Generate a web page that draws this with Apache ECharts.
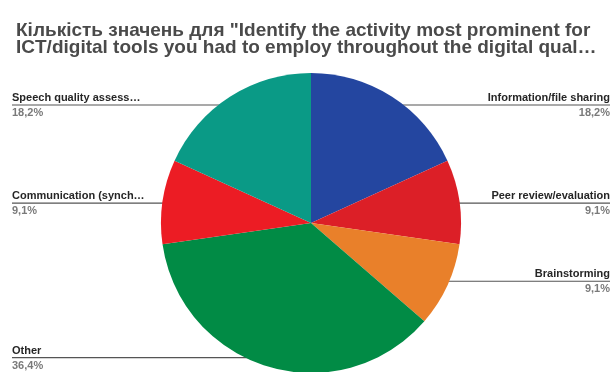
<!DOCTYPE html>
<html>
<head>
<meta charset="utf-8">
<script src="https://cdn.jsdelivr.net/npm/echarts@6/dist/echarts.min.js"></script>
<style>
  html, body { margin: 0; padding: 0; background: #fff; }
  #chart { width: 615px; height: 372px; }
</style>
</head>
<body>
<div id="chart"></div>
<script>
// Answer categories, in clockwise order from the top
const categories = [
  'Information/file sharing',
  'Peer review/evaluation',
  'Brainstorming',
  'Other',
  'Communication (synch…',
  'Speech quality assess…'
];
// Number of responses for each category
const counts = [2, 1, 1, 4, 1, 2];
const sliceColors = ['#2446a0', '#dc1f27', '#e9802a', '#018b45', '#ec1c24', '#0a9a86'];

const titleText = 'Кількість значень для "Identify the activity most prominent for\nICT/digital tools you had to employ throughout the digital qual…';

const CX = 311, CY = 223, R = 150;
const FONT = 'Liberation Sans, Arial, sans-serif';
const chart = echarts.init(document.getElementById('chart'), null, { renderer: 'canvas' });

const data = categories.map((name, i) => ({
  name, value: counts[i], itemStyle: { color: sliceColors[i] }
}));

const total = counts.reduce((a, b) => a + b, 0);

chart.setOption({
  backgroundColor: '#ffffff',
  animation: false,
  title: {
    text: titleText,
    left: 11,
    top: 17,
    textStyle: {
      fontFamily: FONT,
      fontSize: 19,
      fontWeight: 'bold',
      color: '#4a4a4a',
      lineHeight: 17
    }
  },
  series: [{
    type: 'pie',
    center: [CX, CY],
    radius: [0, R],
    startAngle: 90,
    clockwise: true,
    data: data,
    itemStyle: { borderWidth: 0 },
    label: {
      show: true,
      position: 'outside',
      overflow: 'none',
      fontFamily: FONT,
      formatter: p => '{n|' + p.name + '}\n{p|' + p.percent.toFixed(1).replace('.', ',') + '%}',
      rich: {
        n: { fontSize: 11, fontWeight: 'bold', color: '#262626', lineHeight: 16, fontFamily: FONT },
        p: { fontSize: 11, fontWeight: 'bold', color: '#7a7a7a', lineHeight: 14, fontFamily: FONT }
      }
    },
    labelLine: {
      show: true,
      lineStyle: { color: '#555555', width: 1.2 }
    },
    labelLayout: function (params) {
      // anchor point sits a little inside the slice edge, at its mid-angle
      let before = 0;
      for (let i = 0; i < params.dataIndex; i++) before += counts[i];
      const mid = (before + counts[params.dataIndex] / 2) / total * Math.PI * 2;
      const ar = R * 0.935;
      const ax = CX + ar * Math.sin(mid);
      const ay = CY - ar * Math.cos(mid);
      const right = ax >= CX;
      const edgeX = right ? 610 : 12;
      return {
        x: edgeX,
        y: ay,
        align: right ? 'right' : 'left',
        verticalAlign: 'middle',
        width: 200,
        labelLinePoints: [[ax, ay], [ax, ay], [edgeX, ay]]
      };
    }
  }]
});
</script>
</body>
</html>
